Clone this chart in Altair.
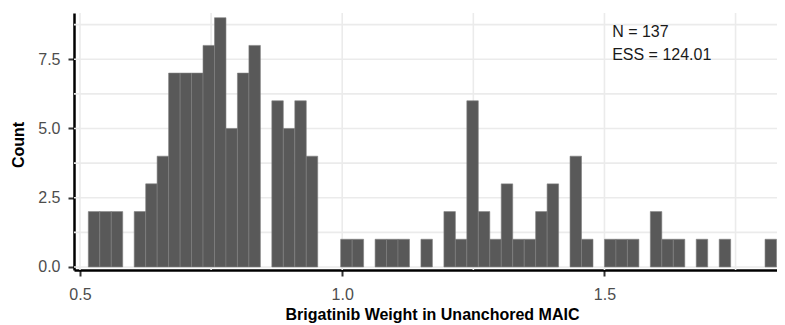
import altair as alt
import pandas as pd

# Histogram bins (left edges) and counts
bin_start = [0.5159, 0.5378, 0.5596, 0.5815, 0.6034, 0.6253, 0.6471, 0.6690, 0.6909, 0.7127,
             0.7346, 0.7565, 0.7783, 0.8002, 0.8221, 0.8440, 0.8658, 0.8877, 0.9096, 0.9314,
             0.9533, 0.9752, 0.9970, 1.0189, 1.0408, 1.0627, 1.0845, 1.1064, 1.1283, 1.1501,
             1.1720, 1.1939, 1.2157, 1.2376, 1.2595, 1.2814, 1.3032, 1.3251, 1.3470, 1.3688,
             1.3907, 1.4126, 1.4344, 1.4563, 1.4782, 1.5001, 1.5219, 1.5438, 1.5657, 1.5875,
             1.6094, 1.6313, 1.6531, 1.6750, 1.6969, 1.7188, 1.7406, 1.7625, 1.7844, 1.8062]
counts = [2, 2, 2, 0, 2, 3, 4, 7, 7, 7,
          8, 9, 5, 7, 8, 0, 6, 5, 6, 4,
          0, 0, 1, 1, 0, 1, 1, 1, 0, 1,
          0, 2, 1, 6, 2, 1, 3, 1, 1, 2,
          3, 0, 4, 1, 0, 1, 1, 1, 0, 2,
          1, 1, 0, 1, 0, 1, 0, 0, 0, 1]
bin_width = 0.02187

x_ticks = [0.5, 1.0, 1.5]
y_ticks = [0, 2.5, 5, 7.5]
x_grid = [0.5, 0.75, 1.0, 1.25, 1.5, 1.75]
y_grid = [0, 1.25, 2.5, 3.75, 5, 6.25, 7.5, 8.75]
annotation = ["N = 137", "ESS = 124.01"]

FONT = "Liberation Sans"
X_T = "Brigatinib Weight in Unanchored MAIC"
Y_T = "Count"

df = pd.DataFrame({"start": bin_start, "count": counts})
df = df[df["count"] > 0]

xs = alt.Scale(domain=[0.4886, 1.8290], nice=False, zero=False)
ys = alt.Scale(domain=[-0.11, 9.17], nice=False, zero=False)

x_axis = alt.Axis(values=x_ticks, format=".1f", grid=False,
                  title=X_T,
                  titleFont=FONT, titleFontSize=16, titleFontWeight="bold",
                  titleColor="black", titleX=358, titleY=49.5,
                  titleBaseline="alphabetic", titleAlign="center",
                  labelFont=FONT, labelFontSize=16, labelColor="#4D4D4D",
                  labelPadding=10, tickSize=6, tickWidth=2, tickColor="#333333",
                  domainColor="black", domainWidth=2.5)
y_axis = alt.Axis(values=y_ticks, format=".1f", grid=False,
                  title=Y_T,
                  titleFont=FONT, titleFontSize=16, titleFontWeight="bold",
                  titleColor="black", titleAngle=270, titleX=-51, titleY=131.5,
                  titleBaseline="alphabetic", titleAlign="center",
                  labelFont=FONT, labelFontSize=16, labelColor="#4D4D4D",
                  labelPadding=8, tickSize=6, tickWidth=2, tickColor="#333333",
                  domainColor="black", domainWidth=2.5)

vgrid = alt.Chart(pd.DataFrame({"g": x_grid})).mark_rule(
    color="#EBEBEB", strokeWidth=1.6
).encode(x=alt.X("g:Q", scale=xs, axis=x_axis, title=X_T))

hgrid = alt.Chart(pd.DataFrame({"g": y_grid})).mark_rule(
    color="#EBEBEB", strokeWidth=1.6
).encode(y=alt.Y("g:Q", scale=ys, axis=y_axis, title=Y_T))

bars = alt.Chart(df).transform_calculate(
    end=f"datum.start + {bin_width}"
).mark_rect(color="#595959", stroke="#808080", strokeWidth=0.6).encode(
    x=alt.X("start:Q", scale=xs, axis=x_axis, title=X_T),
    x2="end:Q",
    y=alt.Y("count:Q", scale=ys, axis=y_axis, title=Y_T),
    y2=alt.datum(0),
)

label = alt.Chart(pd.DataFrame({"t": [0]})).mark_text(
    align="left", baseline="alphabetic", font=FONT, fontSize=16,
    lineHeight=23, color="#1A1A1A", text=annotation
).encode(x=alt.datum(1.5147, scale=xs, axis=x_axis, title=X_T),
         y=alt.datum(8.31, scale=ys, axis=y_axis, title=Y_T))

chart = alt.layer(vgrid, hgrid, bars, label).properties(
    width=703, height=257,
    autosize=alt.AutoSizeParams(type="none"),
    padding={"left": 66, "top": 5, "right": 0, "bottom": 55},
).configure_view(strokeWidth=0)

chart.save("out.html", embed_options={"renderer": "svg", "actions": False})
